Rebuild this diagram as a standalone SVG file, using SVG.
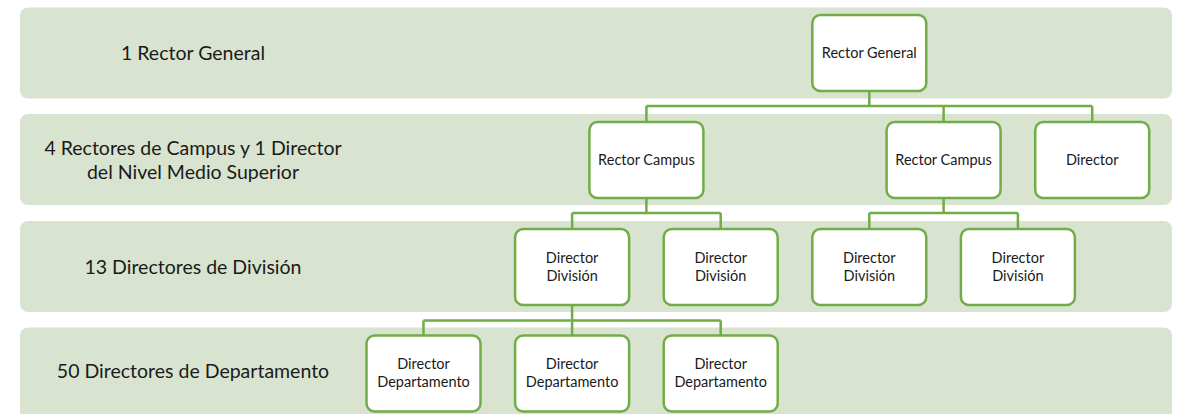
<svg xmlns="http://www.w3.org/2000/svg" width="1184" height="414" viewBox="0 0 1184 414">
<style>
.band{fill:#D8E4D0}
.blabel{font-family:Lato,"Liberation Sans",sans-serif;font-size:19.5px;fill:#1a1a1a;text-anchor:middle}
.box{fill:#FFFFFF;stroke:#70AD47;stroke-width:2.5}
.ntext{font-family:Lato,"Liberation Sans",sans-serif;font-size:14.5px;fill:#1a1a1a;text-anchor:middle}
.conn{fill:none;stroke:#70AD47;stroke-width:2.5}
</style>
<g id="bands">
<rect class="band" x="20" y="7.5" width="1152" height="91" rx="8"/>
<rect class="band" x="20" y="114" width="1152" height="91" rx="8"/>
<rect class="band" x="20" y="221" width="1152" height="91" rx="8"/>
<rect class="band" x="20" y="327.5" width="1152" height="95" rx="8"/>
<text class="blabel" x="193" y="59.5">1 Rector General</text>
<text class="blabel" x="193" y="155">4 Rectores de Campus y 1 Director</text>
<text class="blabel" x="193" y="178.5">del Nivel Medio Superior</text>
<text class="blabel" x="193" y="273.5">13 Directores de División</text>
<text class="blabel" x="193" y="378">50 Directores de Departamento</text>
</g>
<g id="connectors">
<path class="conn" d="M869.3 91V106M646.4 106H1092.2M646.4 106V122M943.6 106V122M1092.2 106V122"/>
<path class="conn" d="M646.4 198V213M572.1 213H720.7M572.1 213V229M720.7 213V229"/>
<path class="conn" d="M943.6 198V213M869.3 213H1017.9M869.3 213V229M1017.9 213V229"/>
<path class="conn" d="M572.1 305V320.5M423.5 320.5H720.7M423.5 320.5V335.5M572.1 320.5V335.5M720.7 320.5V335.5"/>
</g>
<g id="rector-general">
<rect class="box" x="812.3" y="15" width="114" height="76" rx="8"/>
<text class="ntext" x="869.3" y="57.5">Rector General</text>
</g>
<g id="rector-campus-1">
<rect class="box" x="589.4" y="122" width="114" height="76" rx="8"/>
<text class="ntext" x="646.4" y="165">Rector Campus</text>
</g>
<g id="rector-campus-2">
<rect class="box" x="886.6" y="122" width="114" height="76" rx="8"/>
<text class="ntext" x="943.6" y="165">Rector Campus</text>
</g>
<g id="director-nms">
<rect class="box" x="1035.2" y="122" width="114" height="76" rx="8"/>
<text class="ntext" x="1092.2" y="165">Director</text>
</g>
<g id="director-division-1">
<rect class="box" x="515.1" y="229" width="114" height="76" rx="8"/>
<text class="ntext" x="572.1" y="263.3">Director</text>
<text class="ntext" x="572.1" y="280.8">División</text>
</g>
<g id="director-division-2">
<rect class="box" x="663.7" y="229" width="114" height="76" rx="8"/>
<text class="ntext" x="720.7" y="263.3">Director</text>
<text class="ntext" x="720.7" y="280.8">División</text>
</g>
<g id="director-division-3">
<rect class="box" x="812.3" y="229" width="114" height="76" rx="8"/>
<text class="ntext" x="869.3" y="263.3">Director</text>
<text class="ntext" x="869.3" y="280.8">División</text>
</g>
<g id="director-division-4">
<rect class="box" x="960.9" y="229" width="114" height="76" rx="8"/>
<text class="ntext" x="1017.9" y="263.3">Director</text>
<text class="ntext" x="1017.9" y="280.8">División</text>
</g>
<g id="director-departamento-1">
<rect class="box" x="366.5" y="335.5" width="114" height="76" rx="8"/>
<text class="ntext" x="423.5" y="369.3">Director</text>
<text class="ntext" x="423.5" y="386.8">Departamento</text>
</g>
<g id="director-departamento-2">
<rect class="box" x="515.1" y="335.5" width="114" height="76" rx="8"/>
<text class="ntext" x="572.1" y="369.3">Director</text>
<text class="ntext" x="572.1" y="386.8">Departamento</text>
</g>
<g id="director-departamento-3">
<rect class="box" x="663.7" y="335.5" width="114" height="76" rx="8"/>
<text class="ntext" x="720.7" y="369.3">Director</text>
<text class="ntext" x="720.7" y="386.8">Departamento</text>
</g>
</svg>
